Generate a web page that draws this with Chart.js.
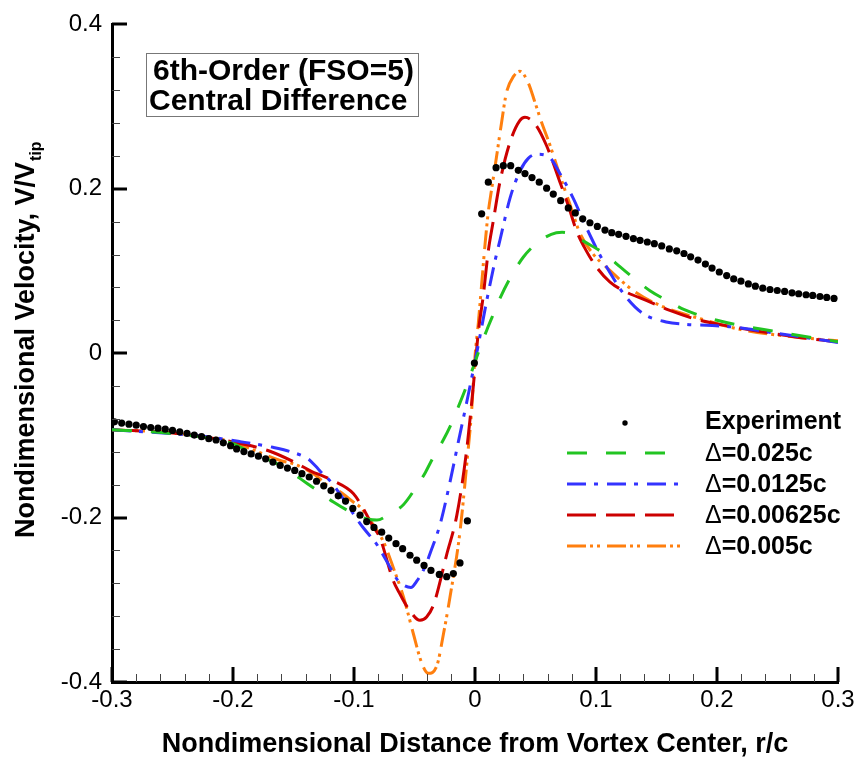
<!DOCTYPE html>
<html><head><meta charset="utf-8">
<script src="https://cdn.jsdelivr.net/npm/chart.js@4.4.1/dist/chart.umd.min.js"></script>
<style>html,body{margin:0;padding:0;background:#fff;overflow:hidden}</style>
</head><body>
<canvas id="c" width="859" height="759" style="width:859px;height:759px;display:block"></canvas>
<script>
// ---------- data ----------
const xTicks = [-0.3, -0.2, -0.1, 0, 0.1, 0.2, 0.3];
const yTicks = [-0.4, -0.2, 0, 0.2, 0.4];
const seriesLabels = ['Experiment', 'Δ=0.025c', 'Δ=0.0125c', 'Δ=0.00625c', 'Δ=0.005c'];

const expX = [-0.298,-0.292,-0.286,-0.280,-0.274,-0.268,-0.262,-0.256,-0.250,-0.244,-0.238,-0.232,-0.226,-0.220,-0.214,-0.208,-0.202,-0.197,-0.191,-0.185,-0.179,-0.173,-0.167,-0.161,-0.155,-0.149,-0.143,-0.137,-0.131,-0.125,-0.119,-0.113,-0.107,-0.101,-0.095,-0.0895,-0.0835,-0.0771,-0.0713,-0.0653,-0.0598,-0.0537,-0.0482,-0.0421,-0.0364,-0.0295,-0.0234,-0.0179,-0.0124,-0.0063,-0.0005,
  0.0055,0.011,0.0174,0.0234,0.0295,0.0358,0.0413,0.0471,0.0531,0.0592,0.0647,0.0708,0.0771,0.0829,0.089,0.095,0.1011,0.1074,0.113,0.1187,0.1248,0.1309,0.1364,0.1424,0.1482,0.1543,0.1606,0.1667,0.1727,0.1782,0.1843,0.1904,0.1959,0.2019,0.208,0.2138,0.2198,0.2259,0.2317,0.2378,0.2438,0.2498,0.2559,0.262,0.2675,0.2736,0.2791,0.2851,0.2907,0.2967];
const expY = [-0.0835,-0.085,-0.0863,-0.0876,-0.0892,-0.0904,-0.0912,-0.0924,-0.094,-0.0956,-0.0976,-0.0996,-0.1016,-0.104,-0.1056,-0.109,-0.1125,-0.1165,-0.1197,-0.1225,-0.1253,-0.1285,-0.1325,-0.1365,-0.1398,-0.1426,-0.1466,-0.1506,-0.1558,-0.1614,-0.1671,-0.1735,-0.1799,-0.1888,-0.197,-0.2048,-0.212,-0.2177,-0.2249,-0.2317,-0.2378,-0.2458,-0.2518,-0.2582,-0.2643,-0.2691,-0.2719,-0.2681,-0.2551,-0.204,-0.012,
  0.1695,0.208,0.2257,0.2281,0.2281,0.2225,0.2185,0.2137,0.208,0.2008,0.1936,0.1855,0.1767,0.1707,0.1635,0.1587,0.1542,0.1498,0.1466,0.1446,0.1422,0.1394,0.1373,0.1353,0.1333,0.1305,0.1268,0.1245,0.1213,0.1173,0.1133,0.1084,0.1036,0.0988,0.0944,0.0904,0.0876,0.0843,0.0815,0.0791,0.0775,0.0763,0.0751,0.0735,0.0723,0.0711,0.0703,0.069,0.0678,0.0666];

const d025X = [-0.3,-0.25,-0.2,-0.185,-0.172,-0.156,-0.145,-0.13,-0.117,-0.099,-0.088,-0.081,-0.072,-0.059,-0.05,-0.041,-0.035,-0.026,-0.019,-0.014,-0.007,-0.001,0.004,0.0097,0.0165,0.021,0.03,0.04,0.05,0.063,0.072,0.08,0.09,0.1074,0.12,0.133,0.1446,0.16,0.173,0.2,0.25,0.3];
const d025Y = [-0.093,-0.098,-0.110,-0.121,-0.1285,-0.1406,-0.152,-0.1675,-0.181,-0.196,-0.202,-0.203,-0.197,-0.184,-0.166,-0.145,-0.128,-0.105,-0.084,-0.066,-0.040,-0.015,0.006,0.028,0.052,0.068,0.094,0.117,0.1325,0.1446,0.147,0.1446,0.136,0.1205,0.105,0.089,0.076,0.063,0.053,0.040,0.026,0.014];

const d0125X = [-0.3,-0.25,-0.22,-0.194,-0.167,-0.153,-0.138,-0.132,-0.126,-0.12,-0.107,-0.098,-0.092,-0.081,-0.07,-0.064,-0.058,-0.053,-0.048,-0.041,-0.037,-0.029,-0.0207,-0.0138,-0.0069,0,0.004,0.0097,0.0165,0.0207,0.029,0.037,0.044,0.051,0.058,0.062,0.07,0.081,0.092,0.103,0.114,0.125,0.139,0.158,0.175,0.191,0.213,0.241,0.269,0.3];
const d0125Y = [-0.093,-0.098,-0.102,-0.1076,-0.1145,-0.1196,-0.1285,-0.137,-0.1466,-0.155,-0.181,-0.201,-0.213,-0.233,-0.261,-0.276,-0.283,-0.285,-0.277,-0.259,-0.243,-0.209,-0.157,-0.108,-0.060,-0.010,0.020,0.064,0.112,0.138,0.189,0.221,0.237,0.242,0.241,0.238,0.219,0.189,0.153,0.120,0.092,0.068,0.048,0.038,0.035,0.034,0.032,0.026,0.020,0.013];

const d00625X = [-0.3,-0.25,-0.2,-0.17,-0.15,-0.134,-0.128,-0.118,-0.1006,-0.092,-0.085,-0.0785,-0.0675,-0.062,-0.054,-0.0455,-0.04,-0.034,-0.0234,-0.015,-0.0069,-0.0014,0.0027,0.007,0.011,0.015,0.0207,0.029,0.037,0.0413,0.0496,0.059,0.07,0.077,0.084,0.092,0.1006,0.1116,0.125,0.142,0.161,0.186,0.2135,0.2465,0.2796,0.3];
const d00625Y = [-0.093,-0.097,-0.108,-0.119,-0.132,-0.1446,-0.148,-0.1546,-0.1707,-0.19,-0.209,-0.225,-0.277,-0.293,-0.313,-0.325,-0.321,-0.305,-0.245,-0.197,-0.118,-0.040,0.025,0.072,0.1245,0.160,0.209,0.257,0.283,0.287,0.279,0.253,0.209,0.18,0.1485,0.1245,0.1044,0.0864,0.0743,0.064,0.052,0.040,0.032,0.024,0.017,0.014];

const d005X = [-0.3,-0.25,-0.2,-0.18,-0.161,-0.15,-0.1336,-0.12,-0.1116,-0.1006,-0.095,-0.0895,-0.084,-0.0758,-0.0675,-0.059,-0.051,-0.044,-0.0386,-0.0317,-0.026,-0.0207,-0.0124,-0.0069,-0.0027,0,0.0027,0.0055,0.0083,0.011,0.0138,0.018,0.022,0.026,0.032,0.037,0.044,0.0496,0.055,0.062,0.07,0.0785,0.087,0.098,0.109,0.131,0.153,0.186,0.222,0.263,0.3];
const d005Y = [-0.093,-0.097,-0.108,-0.1197,-0.1305,-0.1346,-0.1466,-0.1627,-0.1687,-0.181,-0.187,-0.197,-0.209,-0.229,-0.261,-0.297,-0.341,-0.377,-0.3895,-0.381,-0.341,-0.297,-0.217,-0.1365,-0.068,-0.004,0.036,0.084,0.1325,0.172,0.200,0.241,0.281,0.317,0.337,0.343,0.329,0.305,0.281,0.253,0.217,0.181,0.145,0.120,0.104,0.076,0.058,0.042,0.028,0.020,0.015];

// ---------- helpers / styles ----------
const FONT = "'Liberation Sans', Arial, Helvetica, sans-serif";
const pts = (xs, ys) => xs.map((x, i) => ({x: x, y: ys[i]}));
const colors = ['#000000', '#22c422', '#3333ff', '#cc0000', '#ff7f0e'];
const dashes = [[], [20, 19], [19, 8, 4, 9], [29, 10], [19, 4, 3, 4, 3, 7]];
const fmt = v => (Math.abs(v) < 1e-9 ? '0' : String(Math.round(v * 10) / 10));

function lineSet(label, data, i) {
  return {label: label, data: data, showLine: true, borderColor: colors[i], backgroundColor: colors[i],
    borderWidth: 3, borderDash: dashes[i], pointRadius: 0, pointHoverRadius: 0,
    cubicInterpolationMode: 'monotone', borderCapStyle: 'butt', fill: false};
}

const decor = {
  id: 'decor',
  afterDraw(chart) {
    const {ctx, chartArea: ca, scales} = chart;
    const xs = scales.x, ys = scales.y;
    ctx.save();
    // inward tick marks (major + minor)
    for (let i = 0; i <= 30; i++) {
      const v = -0.3 + i * 0.02, major = i % 5 === 0;
      const px = Math.round(xs.getPixelForValue(v)) + (major ? 0 : 0.5);
      ctx.strokeStyle = major ? '#000' : '#444';
      ctx.lineWidth = major ? 3 : 1;
      ctx.beginPath(); ctx.moveTo(px, ca.bottom); ctx.lineTo(px, ca.bottom - (major ? 15 : 8)); ctx.stroke();
    }
    for (let i = 0; i <= 20; i++) {
      const v = -0.4 + i * 0.04, major = i % 5 === 0;
      const py = Math.round(ys.getPixelForValue(v)) + (major ? 0 : 0.5);
      ctx.strokeStyle = major ? '#000' : '#444';
      ctx.lineWidth = major ? 3 : 1;
      ctx.beginPath(); ctx.moveTo(ca.left, py); ctx.lineTo(ca.left + (major ? 15 : 8), py); ctx.stroke();
    }
    // text box
    ctx.fillStyle = '#fff';
    ctx.fillRect(146, 53, 272, 63);
    ctx.strokeStyle = '#777'; ctx.lineWidth = 1;
    ctx.strokeRect(146.5, 53.5, 272, 63);
    ctx.fillStyle = '#000';
    ctx.font = 'bold 30px ' + FONT;
    ctx.textAlign = 'left'; ctx.textBaseline = 'alphabetic';
    ctx.fillText('6th-Order (FSO=5)', 153, 80);
    ctx.fillText('Central Difference', 149, 110);
    // legend
    const base = [429, 461, 492, 523, 554];
    const ly = [423, 453, 484, 515, 546];
    chart.data.datasets.forEach((ds, i) => {
      if (i === 0) {
        ctx.fillStyle = '#000';
        ctx.beginPath(); ctx.arc(625, ly[i], 2.7, 0, Math.PI * 2); ctx.fill();
      } else {
        ctx.strokeStyle = ds.borderColor; ctx.lineWidth = 3; ctx.lineCap = 'butt';
        ctx.setLineDash(ds.borderDash);
        ctx.beginPath(); ctx.moveTo(567, ly[i]); ctx.lineTo(681, ly[i]); ctx.stroke();
        ctx.setLineDash([]);
      }
      ctx.fillStyle = '#000';
      let tx = 705, text = ds.label;
      if (text.charAt(0) === 'Δ') {
        ctx.font = '25px ' + FONT;
        ctx.fillText('Δ', tx, base[i]);
        tx += ctx.measureText('Δ').width;
        text = text.slice(1);
      }
      ctx.font = 'bold 25px ' + FONT;
      ctx.fillText(text, tx, base[i]);
    });
    // y axis title with subscript
    ctx.save();
    ctx.translate(33.5, 538);
    ctx.rotate(-Math.PI / 2);
    ctx.font = 'bold 27px ' + FONT;
    const main = 'Nondimensional Velocity, V/V';
    ctx.fillText(main, 0, 0);
    const w = ctx.measureText(main).width;
    ctx.font = 'bold 16px ' + FONT;
    ctx.fillText('tip', w + 1, 7);
    ctx.restore();
    ctx.restore();
  }
};

new Chart(document.getElementById('c'), {
  type: 'scatter',
  data: {
    datasets: [
      {label: seriesLabels[0], data: pts(expX, expY), showLine: false, pointRadius: 3.6, pointHoverRadius: 3.6,
       pointBackgroundColor: '#000', pointBorderWidth: 0, borderColor: '#000', backgroundColor: '#000'},
      lineSet(seriesLabels[1], pts(d025X, d025Y), 1),
      lineSet(seriesLabels[2], pts(d0125X, d0125Y), 2),
      lineSet(seriesLabels[3], pts(d00625X, d00625Y), 3),
      lineSet(seriesLabels[4], pts(d005X, d005Y), 4)
    ]
  },
  options: {
    responsive: false, animation: false, devicePixelRatio: 1,
    layout: {padding: {left: 0, right: 21, top: 18, bottom: 0}},
    plugins: {legend: {display: false}, tooltip: {enabled: false}},
    scales: {
      x: {
        type: 'linear', min: -0.3, max: 0.3,
        afterBuildTicks: s => { s.ticks = xTicks.map(v => ({value: v})); },
        afterFit: s => { s.height = 77; },
        ticks: {callback: v => fmt(v), font: {family: FONT, size: 24}, color: '#000', padding: 4, maxRotation: 0, autoSkip: false},
        grid: {display: false, drawTicks: false},
        border: {display: true, width: 3, color: '#000'},
        title: {display: true, text: 'Nondimensional Distance from Vortex Center, r/c', color: '#000',
                font: {family: FONT, size: 27, weight: 'bold', lineHeight: 1}, padding: {top: 0, bottom: 1}}
      },
      y: {
        type: 'linear', min: -0.4, max: 0.4,
        afterBuildTicks: s => { s.ticks = yTicks.map(v => ({value: v})); },
        afterFit: s => { s.width = 112; },
        ticks: {callback: v => fmt(v), font: {family: FONT, size: 24}, color: '#000', padding: 10, autoSkip: false},
        grid: {display: false, drawTicks: false},
        border: {display: true, width: 3, color: '#000'}
      }
    }
  },
  plugins: [decor]
});
</script>
</body></html>
